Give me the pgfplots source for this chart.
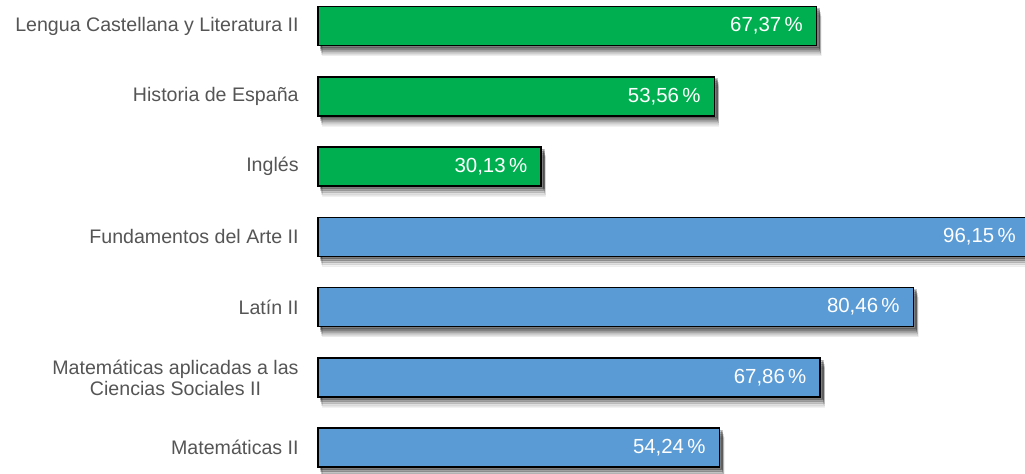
\documentclass[border=0pt]{standalone}
\usepackage{fontspec}
\setmainfont{Liberation Sans}
\usepackage{pgfplots}
\pgfplotsset{compat=1.18}
\usetikzlibrary{shadows}
\definecolor{gbar}{HTML}{00B050}
\definecolor{bbar}{HTML}{5B9BD5}
\definecolor{lbl}{HTML}{555555}
\tikzset{softshadow/.style={
  drop shadow={shadow xshift=1.4pt, shadow yshift=-1.2pt, fill=black, opacity=0.22},
  drop shadow={shadow xshift=1.6pt, shadow yshift=-2.2pt, fill=black, opacity=0.18},
  drop shadow={shadow xshift=1.8pt, shadow yshift=-3.2pt, fill=black, opacity=0.13},
  drop shadow={shadow xshift=2.0pt, shadow yshift=-4.2pt, fill=black, opacity=0.08},
  drop shadow={shadow xshift=2.2pt, shadow yshift=-5.0pt, fill=black, opacity=0.05}}}
\begin{document}
\begin{tikzpicture}
\begin{axis}[
  at={(159pt,4.575pt)}, anchor=north west,
  scale only axis, width=358.9pt, height=246pt,
  xmin=0, xmax=97, ymin=-0.5, ymax=6.5, y dir=reverse, clip=false,
  axis line style={draw=none}, major tick length=0pt, xtick=\empty,
  ytick={0,...,6},
  yticklabels={Lengua Castellana y Literatura II, Historia de España, Inglés, Fundamentos del Arte II, Latín II, {Matemáticas aplicadas a las\\Ciencias Sociales II}, Matemáticas II},
  yticklabel style={align=center, anchor=east, inner sep=0pt, xshift=-9.5pt, text=lbl, font=\fontsize{9.8}{10.5}\selectfont},
  xbar, bar width=0.555, bar shift=0pt,
  nodes near coords={\pgfmathprintnumber[fixed,fixed zerofill,precision=2,use comma,assume math mode=true]{\pgfplotspointmeta}\,\%},
  every node near coord/.append style={anchor=east, inner sep=0pt, xshift=-6.5pt, text=white, font=\fontsize{10.2}{11}\selectfont},
]
\addplot[fill=gbar, draw=black, line width=0.75pt, softshadow]
  coordinates {(67.37,0) (53.56,1) (30.13,2)};
\addplot[fill=bbar, draw=black, line width=0.75pt, softshadow]
  coordinates {(96.15,3) (80.46,4) (67.86,5) (54.24,6)};
\end{axis}
\pgfresetboundingbox
\useasboundingbox (0,0) rectangle (512.5pt,-237pt);
\end{tikzpicture}
\end{document}
